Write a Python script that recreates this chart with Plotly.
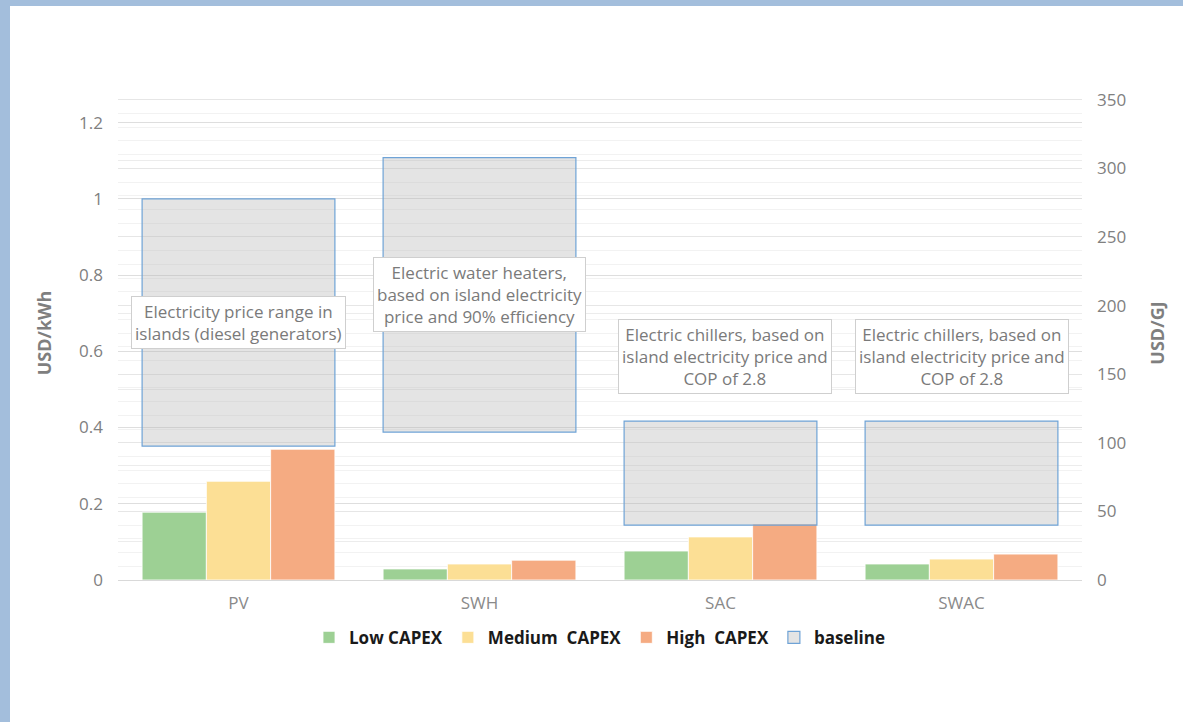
import plotly.graph_objects as go

categories = ["PV", "SWH", "SAC", "SWAC"]
low_capex = [0.178, 0.029, 0.076, 0.042]
medium_capex = [0.259, 0.042, 0.113, 0.055]
high_capex = [0.343, 0.052, 0.147, 0.068]
baseline_low = [0.351, 0.388, 0.144, 0.144]
baseline_high = [1.0, 1.108, 0.417, 0.417]
notes = [
    "Electricity price range in<br>islands (diesel generators)",
    "Electric water heaters,<br>based on island electricity<br>price and 90% efficiency",
    "Electric chillers, based on<br>island electricity price and<br>COP of 2.8",
    "Electric chillers, based on<br>island electricity price and<br>COP of 2.8",
]
note_y = [0.676, 0.749, 0.587, 0.587]
KWH_TO_GJ = 277.78  # USD/kWh -> USD/GJ
left_max = 360 / KWH_TO_GJ

FONT = "Open Sans"
fig = go.Figure()

bw = 0.8 / 3
series = [
    ("Low CAPEX", low_capex, "#9DD094", -0.4),
    ("Medium  CAPEX", medium_capex, "#FCDF95", -0.4 + bw),
    ("High  CAPEX", high_capex, "#F5AB82", -0.4 + 2 * bw),
]
for name, vals, col, off in series:
    fig.add_trace(go.Bar(
        x=categories, y=vals, name=name, width=bw, offset=off,
        marker=dict(color=col, line=dict(color="rgba(255,255,255,0.8)", width=1)),
    ))

fig.add_trace(go.Bar(
    x=categories,
    y=[h - l for h, l in zip(baseline_high, baseline_low)],
    base=baseline_low, name="baseline", width=0.8, offset=-0.4,
    marker=dict(color="rgba(185,185,185,0.38)", line=dict(color="#6FA3D6", width=1.2)),
))

# invisible trace to show the secondary axis
fig.add_trace(go.Scatter(x=categories, y=[0, 0, 0, 0], yaxis="y2", mode="markers",
                         marker=dict(opacity=0), showlegend=False, hoverinfo="skip"))

for i, (t, yy) in enumerate(zip(notes, note_y)):
    fig.add_annotation(
        x=i + (0.02 if i == 2 else 0), y=yy, xref="x", yref="y", text=t, showarrow=False,
        font=dict(family=FONT, size=17, color="#7a7a7a"),
        bgcolor="white", bordercolor="#cfcfcf", borderwidth=1, borderpad=3,
    )

# frame bands
shapes = [
    dict(type="rect", xref="paper", yref="paper", x0=-118 / 964, x1=-108 / 964,
         y0=-142 / 494, y1=1 + 86 / 494, fillcolor="#A3BEDC", line=dict(width=0), layer="below"),
    dict(type="rect", xref="paper", yref="paper", x0=-118 / 964, x1=1 + 101 / 964,
         y0=1 + 80 / 494, y1=1 + 86 / 494, fillcolor="#A3BEDC", line=dict(width=0), layer="below"),
]

fig.update_layout(
    width=1183, height=722,
    margin=dict(l=118, r=101, t=86, b=142, autoexpand=False),
    paper_bgcolor="white", plot_bgcolor="white",
    barmode="overlay",
    shapes=shapes,
    font=dict(family=FONT, color="#808080"),
    xaxis=dict(
        range=[-0.5, 3.5], showgrid=False, showline=True, linecolor="#d9d9d9", linewidth=1,
        tickfont=dict(size=17, color="#8a8a8a"), ticks="", zeroline=False, automargin=False,
        ticklabelstandoff=8,
    ),
    yaxis=dict(
        range=[0, left_max], tickvals=[0, 0.2, 0.4, 0.6, 0.8, 1, 1.2],
        ticktext=["0", "0.2", "0.4", "0.6", "0.8", "1", "1.2"],
        showgrid=True, gridcolor="#dedede", gridwidth=1, zeroline=False, automargin=False,
        tickfont=dict(size=17, color="#808080"), ticklabelstandoff=14,
        title=dict(text="<b>USD/kWh</b>", font=dict(size=18, color="#7f7f7f"), standoff=22),
        minor=dict(dtick=0.1, showgrid=True, gridcolor="#ececec"),
    ),
    yaxis2=dict(
        range=[0, 360], overlaying="y", side="right", dtick=50, automargin=False,
        showgrid=True, gridcolor="#e6e6e6", zeroline=False,
        tickfont=dict(size=17, color="#808080"),
        title=dict(text="<b>USD/GJ</b>", font=dict(size=18, color="#7f7f7f"), standoff=26),
        minor=dict(dtick=10, showgrid=True, gridcolor="#f2f2f2"),
        ticklabelstandoff=14,
    ),
    legend=dict(
        orientation="h", x=0.5, xanchor="center", y=-0.117, yanchor="middle",
        font=dict(family=FONT, size=17, color="#1a1a1a", weight="bold"),
        itemwidth=30, traceorder="normal",
    ),
    bargap=0.2,
)

fig.write_html("out.html", config={"displayModeBar": False},
               post_script="document.body.style.margin='0';")
